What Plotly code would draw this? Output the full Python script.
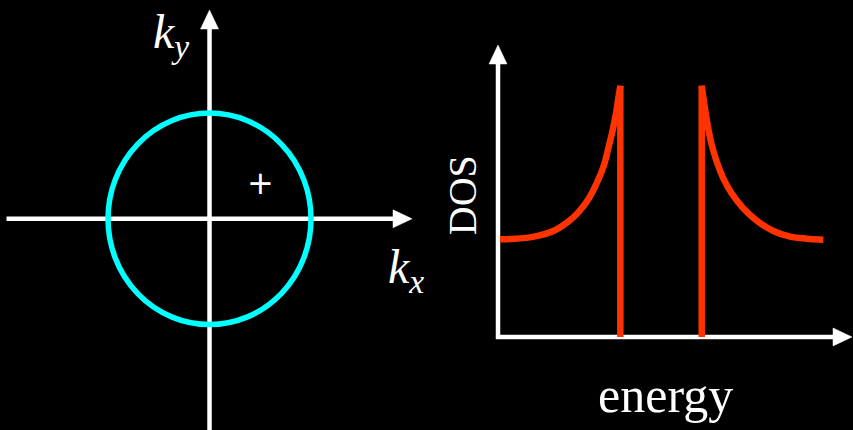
import plotly.graph_objects as go

# --- Fermi surface panel (k-space, units of k_F) ---
k_fermi = 1.0
kx_axis = [-2.0, 1.995]        # horizontal k_x arrow: tail, tip
ky_axis = [-2.1, 1.975]        # vertical k_y arrow: tail, tip
plus_pos = [0.4975, 0.339]

# --- Density of states panel (energy in units of the gap, DOS in units of N0) ---
energy_below = [-3.956, -3.587, -3.260, -2.931, -2.604, -2.278, -2.015, -1.770,
                -1.563, -1.400, -1.295, -1.196, -1.113, -1.049, -1.000]
dos_below = [1.007, 1.013, 1.024, 1.052, 1.100, 1.189, 1.292, 1.430,
             1.601, 1.773, 1.945, 2.116, 2.289, 2.461, 2.591]
energy_above = [1.000, 1.081, 1.162, 1.246, 1.369, 1.531, 1.735,
                2.020, 2.351, 2.759, 3.170, 3.582, 3.988]
dos_above = [2.591, 2.352, 2.146, 1.979, 1.807, 1.636, 1.481,
             1.327, 1.199, 1.093, 1.034, 1.013, 1.003]
gap_edges = [-1.0, 1.0]
energy_axis = [-4.05, 4.693]   # horizontal energy arrow: tail, tip
dos_axis = [-0.02, 3.010]      # vertical DOS arrow: tail, tip
dos_axis_pos = -4.005

WHITE = "#ffffff"
CYAN = "#00ffff"
RED = "#ff3300"
SERIF = "Liberation Serif, Times New Roman, serif"
W, H = 853, 430
SPLIT = 430 / W

# axis ranges (data units) and the resulting pixel scales
X1 = [-2.064, 2.172]
Y1 = [-1.998, 2.070]
X2 = [-5.676, 4.717]
Y2 = [-0.959, 3.474]
scale1 = (W * SPLIT / (X1[1] - X1[0]), H / (Y1[1] - Y1[0]))
scale2 = (W * (1 - SPLIT) / (X2[1] - X2[0]), H / (Y2[1] - Y2[0]))

AXIS_W = 4.5
HEAD_LEN = 19
HEAD_WID = 18

fig = go.Figure()


def add_arrow(tail, tip, scale, xa, ya):
    """Axis line with a filled triangular head, sized in pixels."""
    sx, sy = scale
    dxp = (tip[0] - tail[0]) * sx
    dyp = (tip[1] - tail[1]) * sy
    norm = (dxp ** 2 + dyp ** 2) ** 0.5
    ux, uy = dxp / norm, dyp / norm
    px, py = -uy, ux
    bx = tip[0] - HEAD_LEN * ux / sx
    by = tip[1] - HEAD_LEN * uy / sy
    sx_in = tip[0] - (HEAD_LEN - 2) * ux / sx
    sy_in = tip[1] - (HEAD_LEN - 2) * uy / sy
    fig.add_trace(go.Scatter(
        x=[tail[0], sx_in], y=[tail[1], sy_in], mode="lines",
        line=dict(color=WHITE, width=AXIS_W),
        xaxis=xa, yaxis=ya, hoverinfo="skip", showlegend=False))
    half = HEAD_WID / 2
    fig.add_trace(go.Scatter(
        x=[tip[0], bx + half * px / sx, bx - half * px / sx, tip[0]],
        y=[tip[1], by + half * py / sy, by - half * py / sy, tip[1]],
        mode="lines", fill="toself", fillcolor=WHITE,
        line=dict(color=WHITE, width=0.5),
        xaxis=xa, yaxis=ya, hoverinfo="skip", showlegend=False))


# k-space axes
add_arrow((kx_axis[0], 0), (kx_axis[1], 0), scale1, "x", "y")
add_arrow((0, ky_axis[0]), (0, ky_axis[1]), scale1, "x", "y")

# DOS axes
add_arrow((energy_axis[0], 0), (energy_axis[1], 0), scale2, "x2", "y2")
add_arrow((dos_axis_pos, dos_axis[0]), (dos_axis_pos, dos_axis[1]), scale2, "x2", "y2")

# coherence peaks
for xs, ys in ((energy_below, dos_below), (energy_above, dos_above)):
    fig.add_trace(go.Scatter(
        x=xs, y=ys, mode="lines",
        line=dict(color=RED, width=6.5, shape="spline", smoothing=0.8),
        xaxis="x2", yaxis="y2", hoverinfo="skip", showlegend=False))

# gap edges: DOS drops to zero inside the gap
fig.add_trace(go.Scatter(
    x=[gap_edges[0], gap_edges[0], None, gap_edges[1], gap_edges[1]],
    y=[dos_below[-1], 0.0, None, 0.0, dos_above[0]],
    mode="lines", line=dict(color=RED, width=6.5),
    xaxis="x2", yaxis="y2", hoverinfo="skip", showlegend=False))

# Fermi circle |k| = k_F
fig.add_shape(type="circle", xref="x", yref="y",
              x0=-k_fermi, y0=-k_fermi, x1=k_fermi, y1=k_fermi,
              line=dict(color=CYAN, width=5.5))

annotations = [
    dict(x=plus_pos[0], y=plus_pos[1], xref="x", yref="y", text="+",
         showarrow=False, font=dict(family="DejaVu Sans", size=32, color=WHITE)),
    dict(x=-0.379, y=1.739, xref="x", yref="y", text="<i>k</i><sub><i>y</i></sub>",
         showarrow=False, font=dict(family=SERIF, size=48, color=WHITE)),
    dict(x=1.936, y=-0.484, xref="x", yref="y", text="<i>k</i><sub><i>x</i></sub>",
         showarrow=False, font=dict(family=SERIF, size=48, color=WHITE)),
    dict(x=-4.86, y=1.464, xref="x2", yref="y2", text="DOS", textangle=-90,
         showarrow=False, font=dict(family=SERIF, size=40, color=WHITE)),
    dict(x=0.11, y=-0.60, xref="x2", yref="y2", text="energy",
         showarrow=False, font=dict(family=SERIF, size=50, color=WHITE)),
]

hidden = dict(visible=False, showgrid=False, zeroline=False, fixedrange=True)

fig.update_layout(
    width=W, height=H,
    margin=dict(l=0, r=0, t=0, b=0),
    paper_bgcolor="black", plot_bgcolor="black",
    xaxis=dict(domain=[0, SPLIT], range=X1, **hidden),
    yaxis=dict(domain=[0, 1], range=Y1, **hidden),
    xaxis2=dict(domain=[SPLIT, 1], range=X2, anchor="y2", **hidden),
    yaxis2=dict(domain=[0, 1], range=Y2, anchor="x2", **hidden),
    annotations=annotations,
    showlegend=False,
)

fig.write_html("out.html", config={"displayModeBar": False})
